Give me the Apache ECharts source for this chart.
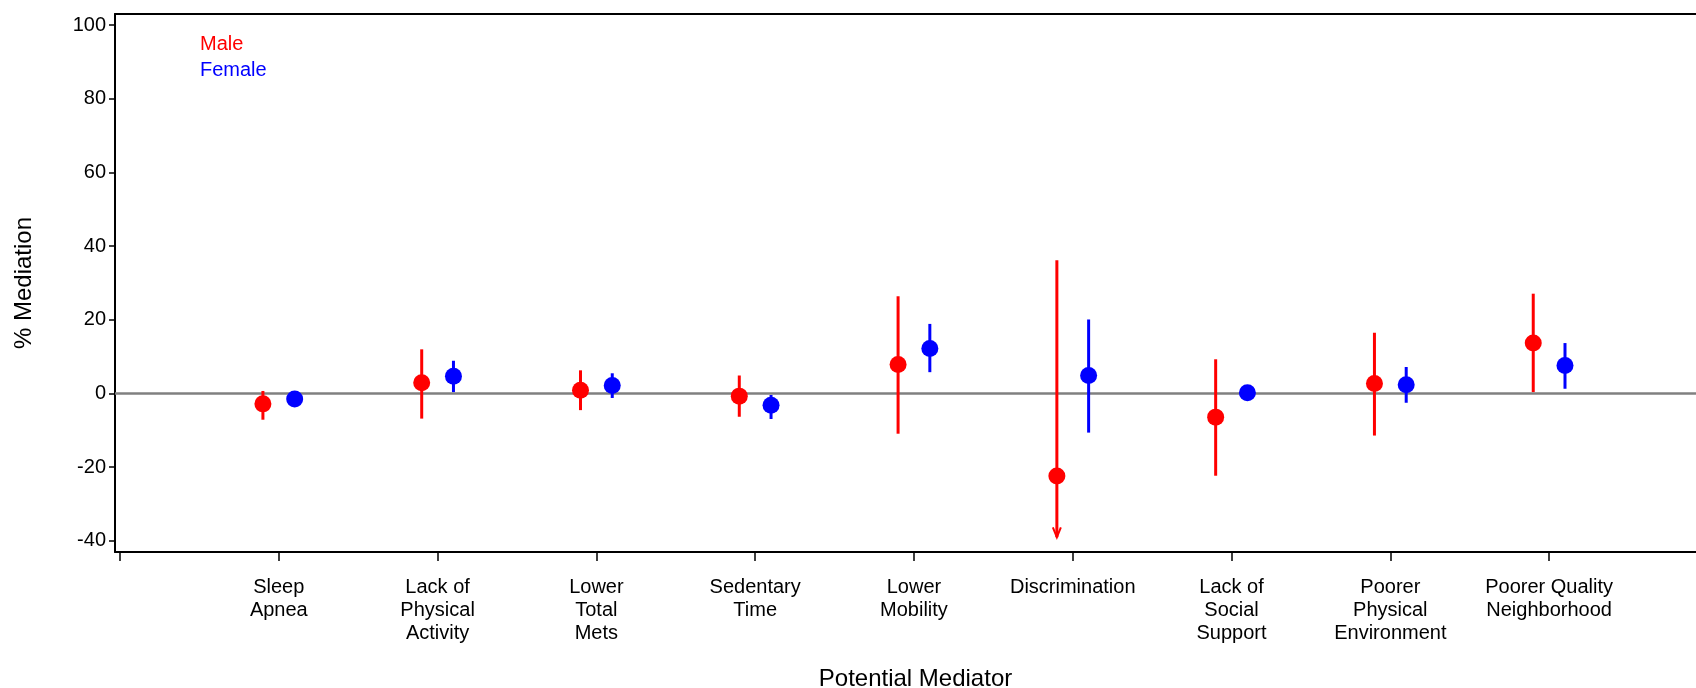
<!DOCTYPE html>
<html>
	<head>
		<meta charset="utf-8">
		<title>% Mediation by potential mediator</title>
		<script src="https://cdn.jsdelivr.net/npm/echarts@6/dist/echarts.min.js"></script>
		<style>
			body { margin: 0; background: #fff; }
		</style>
	</head>
	<body>
		<div id="main" style="width: 1696px;height:688px;"></div>

		<script type="text/javascript">
			// categories along the x axis
			var mediators = ['Sleep\nApnea', 'Lack of\nPhysical\nActivity', 'Lower\nTotal\nMets', 'Sedentary\nTime',
				'Lower\nMobility', 'Discrimination', 'Lack of\nSocial\nSupport', 'Poorer\nPhysical\nEnvironment',
				'Poorer Quality\nNeighborhood'];

			// male estimates and confidence limits
			var maleEst = [-2.8, 2.9, 0.9, -0.7, 7.9, -22.4, -6.4, 2.7, 13.7];
			var maleLo = [-7.1, -6.8, -4.5, -6.3, -10.9, -39, -22.3, -11.4, 0.4];
			var maleHi = [0.7, 12.0, 6.3, 4.9, 26.4, 36.2, 9.3, 16.5, 27.1];
			// lower limit runs off the axis -> drawn with an arrow
			var maleCut = [0, 0, 0, 0, 0, 1, 0, 0, 0];

			// female estimates and confidence limits
			var femaleEst = [-1.5, 4.7, 2.2, -3.2, 12.2, 4.9, 0.2, 2.4, 7.6];
			var femaleLo = [-3.0, 0.4, -1.2, -6.9, 5.8, -10.6, -1.5, -2.5, 1.3];
			var femaleHi = [0.1, 8.9, 5.5, -0.4, 18.9, 20.1, 1.8, 7.2, 13.7];

			var yTicks = [-40, -20, 0, 20, 40, 60, 80, 100];

			var FONT = 'Liberation Sans, Arial, sans-serif';
			var RED = '#ff0000';
			var BLUE = '#0000ff';
			var shift = 0.1; // side-by-side offset of the two groups

			function points(est, dx) {
				return est.map(function (v, i) { return [i + 1 + dx, v]; });
			}
			function bars(lo, hi, dx, cut) {
				return lo.map(function (v, i) { return [i + 1 + dx, v, hi[i], cut ? cut[i] : 0]; });
			}

			function renderBar(params, api) {
				var x = api.value(0);
				var top = api.coord([x, api.value(2)]);
				var bot = api.coord([x, api.value(1)]);
				var color = api.visual('color');
				var kids = [{
					type: 'line',
					shape: { x1: top[0], y1: top[1], x2: bot[0], y2: bot[1] },
					style: { stroke: color, lineWidth: 3 }
				}];
				if (api.value(3)) {
					kids.push({
						type: 'polyline',
						shape: { points: [[bot[0] - 4, bot[1] - 10], [bot[0], bot[1]], [bot[0] + 4, bot[1] - 10]] },
						style: { stroke: color, lineWidth: 2, fill: null }
					});
				}
				return { type: 'group', children: kids };
			}

			var myChart = echarts.init(document.getElementById('main'));
			var option = {
				animation: false,
				backgroundColor: '#fff',
				textStyle: { fontFamily: FONT, color: '#000' },
				grid: {
					left: 115, right: 0, top: 14, bottom: 136,
					outerBoundsMode: 'none'
				},
				legend: {
					orient: 'vertical',
					left: 195,
					top: 34,
					padding: 0,
					icon: 'none',
					itemWidth: 0,
					itemHeight: 20,
					itemGap: 6,
					selectedMode: false,
					textStyle: { fontFamily: FONT, fontSize: 20 },
					data: [
						{ name: 'Male', textStyle: { color: RED } },
						{ name: 'Female', textStyle: { color: BLUE } }
					]
				},
				xAxis: [{
					type: 'value',
					min: -0.0315,
					max: 9.925,
					name: 'Potential Mediator',
					nameLocation: 'middle',
					nameGap: 115,
					nameTextStyle: { fontSize: 24, color: '#000', fontFamily: FONT, padding: [0, 0, 0, 20] },
					splitLine: { show: false },
					axisLine: { onZero: false, lineStyle: { color: '#000', width: 2 } },
					axisTick: {
						length: 9,
						customValues: [0, 1, 2, 3, 4, 5, 6, 7, 8, 9],
						lineStyle: { color: '#000', width: 1.5 }
					},
					axisLabel: {
						customValues: [1, 2, 3, 4, 5, 6, 7, 8, 9],
						margin: 24,
						fontSize: 20,
						lineHeight: 23,
						color: '#000',
						fontFamily: FONT,
						formatter: function (v) { return mediators[Math.round(v) - 1] || ''; }
					}
				}, {
					// top frame line only
					type: 'value',
					position: 'top',
					min: -0.0315,
					max: 9.925,
					splitLine: { show: false },
					axisLine: { onZero: false, lineStyle: { color: '#000', width: 2 } },
					axisTick: { show: false },
					axisLabel: { show: false }
				}],
				yAxis: {
					type: 'value',
					min: -43,
					max: 103,
					name: '% Mediation',
					nameLocation: 'middle',
					nameRotate: 90,
					nameGap: 79,
					nameTextStyle: { fontSize: 24, color: '#000', fontFamily: FONT },
					splitLine: { show: false },
					axisLine: { onZero: false, lineStyle: { color: '#000', width: 2 } },
					axisTick: {
						length: 6,
						customValues: yTicks,
						lineStyle: { color: '#000', width: 1.5 }
					},
					axisLabel: {
						customValues: yTicks,
						margin: 9,
						fontSize: 20,
						color: '#000',
						fontFamily: FONT
					}
				},
				series: [
					{
						name: 'Male CI',
						type: 'custom',
						renderItem: renderBar,
						itemStyle: { color: RED },
						encode: { x: 0, y: [1, 2] },
						data: bars(maleLo, maleHi, -shift, maleCut),
						z: 3,
						markLine: {
							silent: true,
							symbol: 'none',
							label: { show: false },
							lineStyle: { color: '#808080', width: 2.5, type: 'solid' },
							data: [{ yAxis: 0 }],
							z: 1
						}
					},
					{
						name: 'Female CI',
						type: 'custom',
						renderItem: renderBar,
						itemStyle: { color: BLUE },
						encode: { x: 0, y: [1, 2] },
						data: bars(femaleLo, femaleHi, shift),
						z: 3
					},
					{
						name: 'Male',
						type: 'scatter',
						symbol: 'circle',
						symbolSize: 17,
						itemStyle: { color: RED, opacity: 1 },
						data: points(maleEst, -shift),
						z: 4
					},
					{
						name: 'Female',
						type: 'scatter',
						symbol: 'circle',
						symbolSize: 17,
						itemStyle: { color: BLUE, opacity: 1 },
						data: points(femaleEst, shift),
						z: 4
					}
				]
			};

			myChart.setOption(option);
		</script>
	</body>
</html>
